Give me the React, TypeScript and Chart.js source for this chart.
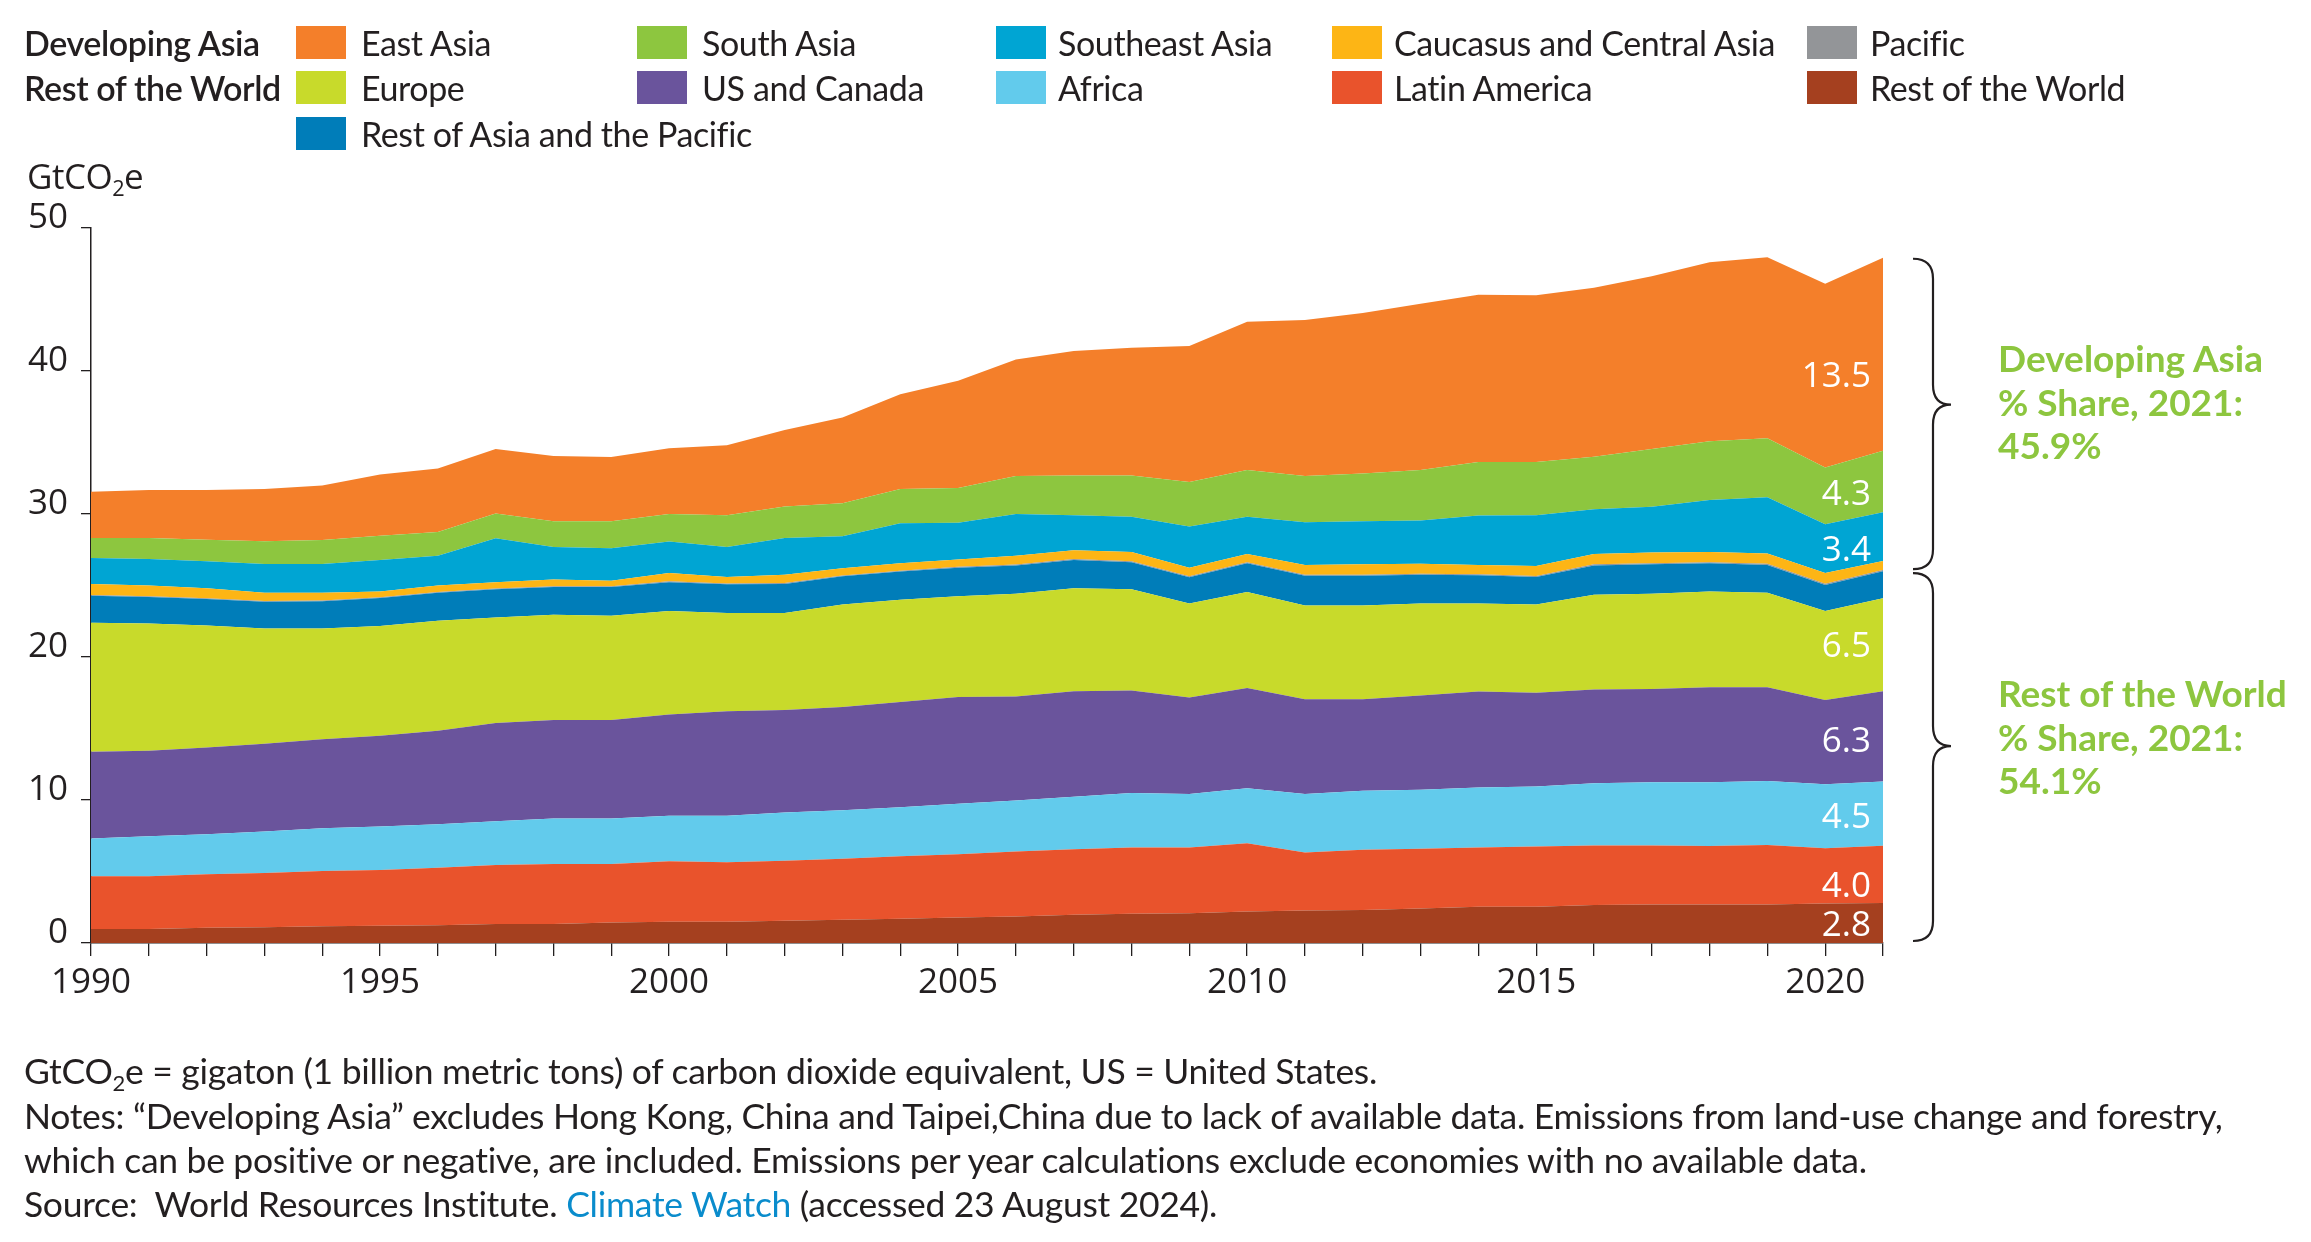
import React, { useEffect, useRef } from "react";
import { Chart, registerables } from "chart.js";

Chart.register(...registerables);

const W = 2311;
const H = 1242;
const TEXT = "#231f20";
const GREEN = "#8dc63f";

const years = [
  "1990", "1991", "1992", "1993", "1994", "1995", "1996", "1997", "1998", "1999",
  "2000", "2001", "2002", "2003", "2004", "2005", "2006", "2007", "2008", "2009",
  "2010", "2011", "2012", "2013", "2014", "2015", "2016", "2017", "2018", "2019",
  "2020", "2021",
];

const yTicks = [0, 10, 20, 30, 40, 50];

// GtCO2e per region (stack order: bottom to top)
const restOfWorld = [0.98, 0.98, 1.06, 1.10, 1.17, 1.21, 1.25, 1.33, 1.33, 1.44, 1.48, 1.48, 1.55, 1.63, 1.70, 1.78, 1.86, 1.97, 2.05, 2.08, 2.20, 2.27, 2.31, 2.42, 2.54, 2.54, 2.65, 2.69, 2.69, 2.69, 2.77, 2.80];
const latinAmerica = [3.68, 3.68, 3.75, 3.79, 3.87, 3.90, 4.02, 4.12, 4.20, 4.09, 4.24, 4.16, 4.21, 4.27, 4.36, 4.43, 4.54, 4.58, 4.62, 4.59, 4.77, 4.06, 4.21, 4.17, 4.13, 4.20, 4.17, 4.13, 4.09, 4.17, 3.86, 4.00];
const africa = [2.65, 2.80, 2.80, 2.91, 2.99, 3.03, 3.03, 3.07, 3.18, 3.18, 3.18, 3.26, 3.37, 3.38, 3.44, 3.52, 3.56, 3.68, 3.82, 3.75, 3.86, 4.09, 4.12, 4.13, 4.20, 4.21, 4.35, 4.43, 4.47, 4.47, 4.47, 4.50];
const usAndCanada = [6.06, 5.99, 6.06, 6.14, 6.21, 6.36, 6.55, 6.86, 6.89, 6.89, 7.08, 7.30, 7.16, 7.22, 7.36, 7.47, 7.27, 7.38, 7.16, 6.74, 7.01, 6.63, 6.41, 6.59, 6.71, 6.55, 6.56, 6.52, 6.63, 6.55, 5.90, 6.30];
const europe = [9.02, 8.90, 8.53, 8.06, 7.76, 7.66, 7.69, 7.39, 7.35, 7.28, 7.24, 6.87, 6.78, 7.17, 7.14, 7.04, 7.20, 7.20, 7.08, 6.59, 6.71, 6.55, 6.55, 6.44, 6.17, 6.17, 6.63, 6.66, 6.70, 6.62, 6.22, 6.50];
const restOfAsiaPacific = [1.89, 1.85, 1.85, 1.86, 1.90, 1.97, 1.96, 1.96, 1.94, 2.01, 2.01, 2.01, 2.04, 1.97, 1.98, 2.01, 1.97, 1.97, 1.90, 1.82, 2.00, 2.08, 2.08, 2.01, 1.97, 1.93, 2.04, 2.05, 1.97, 1.94, 1.82, 1.90];
const pacific = [0.05, 0.05, 0.05, 0.05, 0.05, 0.05, 0.05, 0.06, 0.06, 0.06, 0.06, 0.06, 0.06, 0.06, 0.06, 0.06, 0.06, 0.07, 0.07, 0.07, 0.07, 0.07, 0.07, 0.07, 0.07, 0.07, 0.08, 0.08, 0.08, 0.08, 0.08, 0.08];
const caucasusCentralAsia = [0.78, 0.75, 0.70, 0.59, 0.55, 0.40, 0.45, 0.44, 0.47, 0.39, 0.58, 0.46, 0.59, 0.50, 0.51, 0.51, 0.62, 0.61, 0.65, 0.61, 0.58, 0.69, 0.73, 0.69, 0.65, 0.69, 0.72, 0.75, 0.72, 0.71, 0.75, 0.64];
const southeastAsia = [1.82, 1.86, 1.90, 2.00, 2.00, 2.20, 2.08, 3.07, 2.27, 2.26, 2.20, 2.09, 2.57, 2.25, 2.81, 2.57, 2.92, 2.46, 2.46, 2.88, 2.61, 2.99, 3.02, 3.03, 3.45, 3.56, 3.14, 3.19, 3.63, 3.94, 3.41, 3.40];
const southAsia = [1.40, 1.47, 1.50, 1.60, 1.68, 1.70, 1.67, 1.74, 1.81, 1.90, 1.93, 2.23, 2.20, 2.31, 2.38, 2.43, 2.65, 2.77, 2.88, 3.10, 3.26, 3.22, 3.34, 3.52, 3.75, 3.72, 3.66, 4.05, 4.10, 4.13, 3.98, 4.30];
const eastAsia = [3.22, 3.34, 3.47, 3.64, 3.82, 4.29, 4.43, 4.51, 4.55, 4.48, 4.60, 4.88, 5.34, 5.98, 6.63, 7.50, 8.15, 8.71, 8.94, 9.51, 10.38, 10.91, 11.21, 11.63, 11.70, 11.66, 11.83, 12.08, 12.53, 12.65, 12.84, 13.50];

// 2021 value labels shown at the right end of the bands
const endLabels2021: Record<string, string> = {
  "Rest of the World": "2.8",
  "Latin America": "4.0",
  "Africa": "4.5",
  "US and Canada": "6.3",
  "Europe": "6.5",
  "Southeast Asia": "3.4",
  "South Asia": "4.3",
  "East Asia": "13.5",
};

const developingAsiaShare = "45.9%";
const restOfWorldShare = "54.1%";

type Series = { name: string; color: string; data: number[]; group: "da" | "row"; nudge: number };

const stack: Series[] = [
  { name: "Rest of the World", color: "#a5401f", data: restOfWorld, group: "row", nudge: 3 },
  { name: "Latin America", color: "#e9532c", data: latinAmerica, group: "row", nudge: 13 },
  { name: "Africa", color: "#62cbec", data: africa, group: "row", nudge: 4 },
  { name: "US and Canada", color: "#6a549c", data: usAndCanada, group: "row", nudge: 6 },
  { name: "Europe", color: "#c8da2b", data: europe, group: "row", nudge: 2 },
  { name: "Rest of Asia and the Pacific", color: "#007db9", data: restOfAsiaPacific, group: "row", nudge: 0 },
  { name: "Pacific", color: "#939598", data: pacific, group: "da", nudge: 0 },
  { name: "Caucasus and Central Asia", color: "#fdb515", data: caucasusCentralAsia, group: "da", nudge: 0 },
  { name: "Southeast Asia", color: "#00a5d3", data: southeastAsia, group: "da", nudge: 14 },
  { name: "South Asia", color: "#8dc63f", data: southAsia, group: "da", nudge: 13 },
  { name: "East Asia", color: "#f47f2a", data: eastAsia, group: "da", nudge: 23 },
];

const legendRows: { title: string; items: string[] }[] = [
  { title: "Developing Asia", items: ["East Asia", "South Asia", "Southeast Asia", "Caucasus and Central Asia", "Pacific"] },
  { title: "Rest of the World", items: ["Europe", "US and Canada", "Africa", "Latin America", "Rest of the World"] },
  { title: "", items: ["Rest of Asia and the Pacific"] },
];

const colorOf = (name: string) => stack.find((s) => s.name === name)!.color;

function drawBrace(ctx: CanvasRenderingContext2D, xEnd: number, xLine: number, xTip: number, y1: number, y2: number) {
  const r = 20;
  const m = y1 + (y2 - y1) * 0.47;
  ctx.beginPath();
  ctx.moveTo(xEnd, y1);
  ctx.quadraticCurveTo(xLine, y1, xLine, y1 + r);
  ctx.lineTo(xLine, m - r);
  ctx.quadraticCurveTo(xLine, m, xTip, m);
  ctx.quadraticCurveTo(xLine, m, xLine, m + r);
  ctx.lineTo(xLine, y2 - r);
  ctx.quadraticCurveTo(xLine, y2, xEnd, y2);
  ctx.stroke();
}

const overlayPlugin = {
  id: "overlay",
  afterDatasetsDraw(chart: any) {
    const { ctx, chartArea } = chart;
    const ys = chart.scales.y;
    const last = years.length - 1;
    ctx.save();
    ctx.font = '35px "Open Sans"';
    ctx.fillStyle = "#ffffff";
    ctx.textAlign = "right";
    ctx.textBaseline = "middle";
    let cum = 0;
    let rowTop = 0;
    stack.forEach((s) => {
      const v = s.data[last];
      const mid = cum + v / 2;
      cum += v;
      if (s.group === "row") rowTop = cum;
      const lbl = endLabels2021[s.name];
      if (lbl) ctx.fillText(lbl, chartArea.right - 12, ys.getPixelForValue(mid) + s.nudge);
    });
    ctx.strokeStyle = TEXT;
    ctx.lineWidth = 2.2;
    const xEnd = chartArea.right + 30;
    const xLine = chartArea.right + 50;
    const xTip = chartArea.right + 68;
    drawBrace(ctx, xEnd, xLine, xTip, ys.getPixelForValue(cum) + 1, ys.getPixelForValue(rowTop) - 2);
    drawBrace(ctx, xEnd, xLine, xTip, ys.getPixelForValue(rowTop) + 2, ys.getPixelForValue(0) - 2);
    ctx.restore();
  },
};

const legendFont = "Lato, 'Open Sans', sans-serif";
const swatchX = [296, 637, 996, 1332, 1807];
const textX = [361, 702, 1058, 1394, 1870];
const rowCenters = [43, 88, 134];
const noteLines = [1071, 1116, 1160, 1204];

const noteStyle = (center: number): React.CSSProperties => ({
  position: "absolute",
  left: 24,
  top: center - 22,
  height: 44,
  lineHeight: "44px",
  fontFamily: legendFont,
  fontSize: 35.5,
  whiteSpace: "pre",
  letterSpacing: -0.3,
});

export default function App() {
  const ref = useRef<HTMLCanvasElement>(null);

  useEffect(() => {
    const canvas = ref.current!;
    const chart = new Chart(canvas, {
      type: "line",
      data: {
        labels: years,
        datasets: stack.map((s, i) => ({
          label: s.name,
          data: s.data,
          backgroundColor: s.color,
          borderColor: "rgba(0,0,0,0)",
          borderWidth: 0,
          pointRadius: 0,
          fill: i === 0 ? "origin" : "-1",
          tension: 0,
        })),
      },
      options: {
        animation: false,
        responsive: false,
        maintainAspectRatio: false,
        events: [],
        layout: { padding: { left: 0, top: 228, right: W - 1883, bottom: H - 943 - 70 } },
        plugins: { legend: { display: false }, tooltip: { enabled: false } },
        scales: {
          x: {
            type: "category",
            offset: false,
            grid: { display: true, drawOnChartArea: false, drawTicks: true, tickLength: 13, color: TEXT, lineWidth: 1.3 },
            border: { display: true, color: TEXT, width: 1.5 },
            ticks: {
              autoSkip: false,
              maxRotation: 0,
              minRotation: 0,
              padding: 6,
              color: TEXT,
              font: { family: "'Open Sans'", size: 35 },
              callback: (_v: any, i: number) => (Number(years[i]) % 5 === 0 ? years[i] : ""),
            },
            afterFit: (s: any) => {
              s.height = 70;
            },
          },
          y: {
            stacked: true,
            min: 0,
            max: 50,
            afterBuildTicks: (s: any) => {
              s.ticks = yTicks.map((v) => ({ value: v }));
            },
            grid: { display: true, drawOnChartArea: false, drawTicks: true, tickLength: 10, color: TEXT, lineWidth: 1.3 },
            border: { display: true, color: TEXT, width: 1.5 },
            ticks: {
              padding: 13,
              labelOffset: -10,
              color: TEXT,
              font: { family: "'Open Sans'", size: 35 },
            },
            afterFit: (s: any) => {
              s.width = 91;
            },
          },
        },
      },
      plugins: [overlayPlugin],
    } as any);
    return () => chart.destroy();
  }, []);

  return (
    <div style={{ position: "fixed", left: 0, top: 0, width: W, height: H, background: "#fff", overflow: "hidden", color: TEXT }}>
      <canvas ref={ref} width={W} height={H} style={{ position: "absolute", left: 0, top: 0, width: W, height: H }} />

      {legendRows.map((row, r) => (
        <React.Fragment key={r}>
          {row.title && (
            <div style={{ position: "absolute", left: 24, top: rowCenters[r] - 21, height: 42, lineHeight: "42px", fontFamily: legendFont, fontSize: 34, fontWeight: 600, whiteSpace: "nowrap", letterSpacing: -0.4 }}>
              {row.title}
            </div>
          )}
          {row.items.map((name, c) => (
            <React.Fragment key={name}>
              <div style={{ position: "absolute", left: swatchX[c], top: rowCenters[r] - 17, width: 50, height: 33, background: colorOf(name) }} />
              <div style={{ position: "absolute", left: textX[c], top: rowCenters[r] - 21, height: 42, lineHeight: "42px", fontFamily: legendFont, fontSize: 34, whiteSpace: "nowrap", letterSpacing: -0.4 }}>
                {name}
              </div>
            </React.Fragment>
          ))}
        </React.Fragment>
      ))}

      <div style={{ position: "absolute", left: 27, top: 154, height: 44, lineHeight: "44px", fontFamily: "'Open Sans'", fontSize: 35, whiteSpace: "nowrap", letterSpacing: -0.5 }}>
        GtCO<sub style={{ fontSize: "0.62em", verticalAlign: "-0.3em", lineHeight: 0 }}>2</sub>e
      </div>

      <div style={{ position: "absolute", left: 1998, top: 336, lineHeight: "43.5px", fontFamily: legendFont, fontSize: 37, fontWeight: 700, color: GREEN, whiteSpace: "nowrap" }}>
        <div>Developing Asia</div>
        <div>% Share, 2021:</div>
        <div>{developingAsiaShare}</div>
      </div>
      <div style={{ position: "absolute", left: 1998, top: 671, lineHeight: "43.5px", fontFamily: legendFont, fontSize: 37, fontWeight: 700, color: GREEN, whiteSpace: "nowrap" }}>
        <div>Rest of the World</div>
        <div>% Share, 2021:</div>
        <div>{restOfWorldShare}</div>
      </div>

      <div style={noteStyle(noteLines[0])}>
        GtCO<sub style={{ fontSize: "0.62em", verticalAlign: "-0.3em", lineHeight: 0 }}>2</sub>e = gigaton (1 billion metric tons) of carbon dioxide equivalent, US = United States.
      </div>
      <div style={noteStyle(noteLines[1])}>
        Notes: “Developing Asia” excludes Hong Kong, China and Taipei,China due to lack of available data. Emissions from land-use change and forestry,
      </div>
      <div style={noteStyle(noteLines[2])}>
        which can be positive or negative, are included. Emissions per year calculations exclude economies with no available data.
      </div>
      <div style={noteStyle(noteLines[3])}>
        {"Source:  World Resources Institute. "}
        <span style={{ color: "#0a8ccc" }}>Climate Watch</span>
        {" (accessed 23 August 2024)."}
      </div>
    </div>
  );
}
